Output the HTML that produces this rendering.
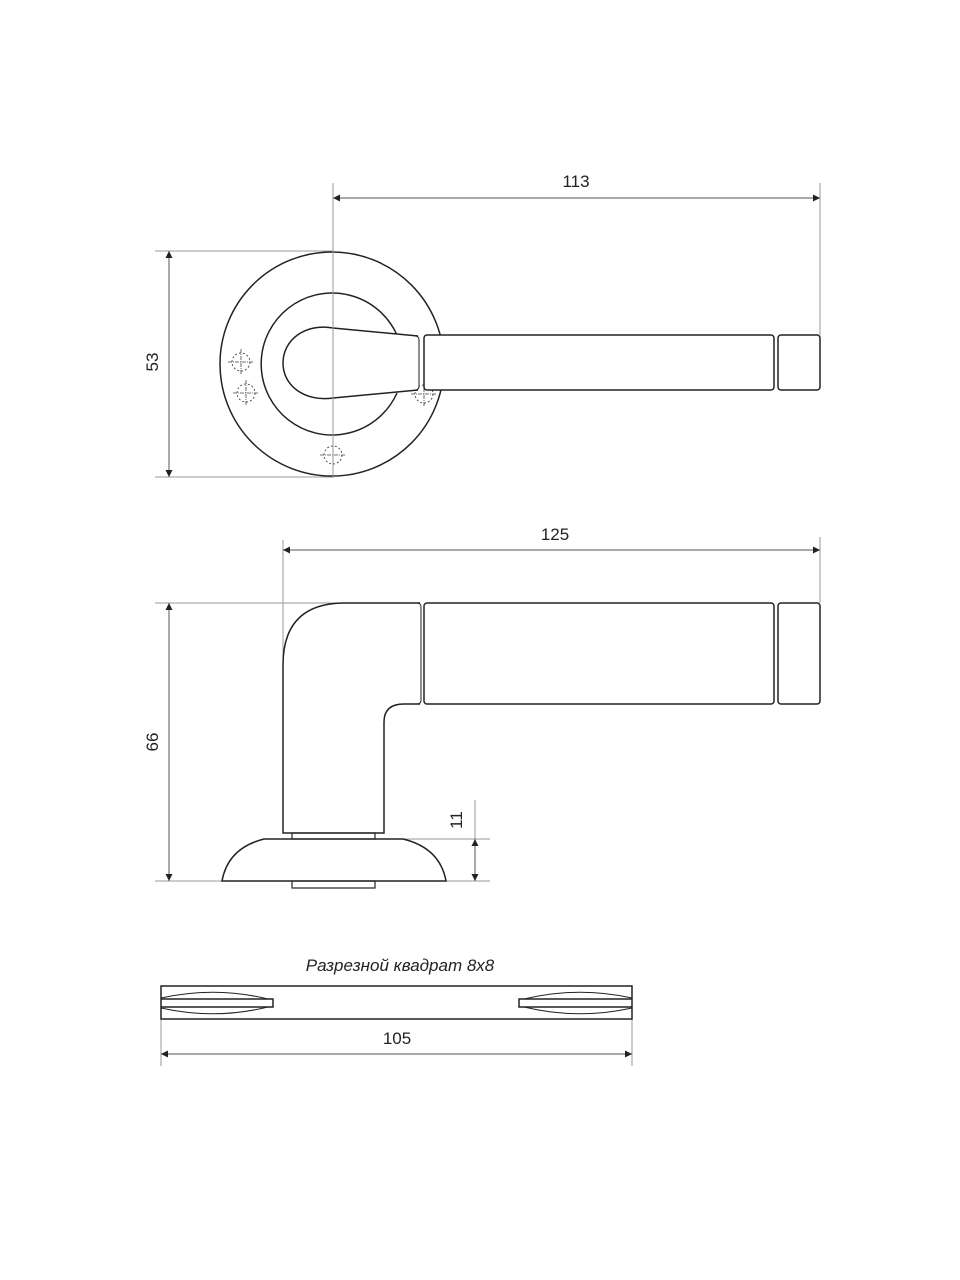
<!DOCTYPE html>
<html><head><meta charset="utf-8"><style>body{margin:0;background:#fff}svg{display:block}</style></head><body>
<svg width="960" height="1280" viewBox="0 0 960 1280" xmlns="http://www.w3.org/2000/svg" font-family="Liberation Sans, sans-serif">
<defs><marker id="a" viewBox="0 0 10 10" refX="10" refY="5" markerWidth="9" markerHeight="7" orient="auto-start-reverse" markerUnits="userSpaceOnUse"><path d="M0,0L10,5L0,10z" fill="#222"/></marker></defs>
<g stroke="#999" stroke-width="1" fill="none">
<line x1="820" y1="183" x2="820" y2="335"/>
<line x1="155" y1="251" x2="333" y2="251"/>
<line x1="155" y1="477" x2="333" y2="477"/>
<line x1="283" y1="540" x2="283" y2="660"/>
<line x1="820" y1="537" x2="820" y2="603"/>
<line x1="155" y1="603" x2="420" y2="603"/>
<line x1="155" y1="881" x2="222" y2="881"/>
<line x1="403" y1="839" x2="490" y2="839"/>
<line x1="446" y1="881" x2="490" y2="881"/>
<line x1="475" y1="800" x2="475" y2="839"/>
<line x1="161" y1="1019" x2="161" y2="1066"/>
<line x1="632" y1="1019" x2="632" y2="1066"/>
</g>
<g stroke="#555" stroke-width="1" fill="none">
<line x1="333" y1="198" x2="820" y2="198" marker-end="url(#a)" marker-start="url(#a)"/>
<line x1="169" y1="251" x2="169" y2="477" marker-end="url(#a)" marker-start="url(#a)"/>
<line x1="283" y1="550" x2="820" y2="550" marker-end="url(#a)" marker-start="url(#a)"/>
<line x1="169" y1="603" x2="169" y2="881" marker-end="url(#a)" marker-start="url(#a)"/>
<line x1="475" y1="839" x2="475" y2="881" marker-end="url(#a)" marker-start="url(#a)"/>
<line x1="161" y1="1054" x2="632" y2="1054" marker-end="url(#a)" marker-start="url(#a)"/>
</g>
<g fill="#222" font-size="17">
<text x="576" y="187" text-anchor="middle">113</text>
<text x="555" y="540" text-anchor="middle">125</text>
<text x="397" y="1044" text-anchor="middle">105</text>
<text transform="translate(158,362) rotate(-90)" text-anchor="middle">53</text>
<text transform="translate(158,742) rotate(-90)" text-anchor="middle">66</text>
<text transform="translate(462,820) rotate(-90)" text-anchor="middle">11</text>
<text x="400" y="971" text-anchor="middle" font-style="italic">Разрезной квадрат 8х8</text>
</g>
<g stroke="#222" stroke-width="1.5" fill="none">
<circle cx="332" cy="364" r="112"/>
<path d="M397,393 A71,71 0 1 1 397,335"/>
</g>
<g stroke="#444" stroke-width="0.9" fill="none" stroke-dasharray="2,2">
<circle cx="241" cy="362" r="9"/><circle cx="246" cy="393" r="9"/><circle cx="424" cy="394" r="9"/><circle cx="333" cy="455" r="9"/>
</g>
<g stroke="#444" stroke-width="0.8" stroke-dasharray="4,1,1,1">
<path d="M228,362H254M241,349V375M233,393H259M246,380V406M411,394H437M424,381V407M320,455H346M333,442V468"/>
</g>
<g stroke="#222" stroke-width="1.5" fill="#fff">
<path d="M418,336 L333,328 C305,323 283,340 283,363 C283,386 305,402 333,398 L418,390"/>
<path d="M415,336 Q419,336 419,340 L419,386 Q419,390 415,390" stroke-width="1"/>
<rect x="424" y="335" width="350" height="55" rx="3"/>
<rect x="778" y="335" width="42" height="55" rx="3"/>
</g>
<line x1="333" y1="183" x2="333" y2="478" stroke="#999" stroke-width="1"/>
<g stroke="#222" stroke-width="1.5" fill="none">
<path d="M420,603 L345,603 Q283,603 283,665 L283,833 L384,833 L384,722 Q384,704 404,704 L420,704"/>
<path d="M417,603 Q421,603 421,607 L421,700 Q421,704 417,704" stroke-width="1"/>
<rect x="424" y="603" width="350" height="101" rx="3"/>
<rect x="778" y="603" width="42" height="101" rx="3"/>
<rect x="292" y="833" width="83" height="6" stroke-width="1.2"/>
<path d="M264,839 L403,839 Q440,848 446,881 L222,881 Q228,848 264,839 Z"/>
<rect x="292" y="881" width="83" height="7" stroke-width="1.2"/>
<rect x="161" y="986" width="471" height="33"/>
<path d="M161,999 L273,999 L273,1007 L161,1007"/>
<path d="M632,999 L519,999 L519,1007 L632,1007"/>
<path d="M161,998 Q215,986 268,999 M161,1008 Q215,1020 268,1007" stroke-width="1"/>
<path d="M632,998 Q578,986 524,999 M632,1008 Q578,1020 524,1007" stroke-width="1"/>
</g>
</svg>
</body></html>
